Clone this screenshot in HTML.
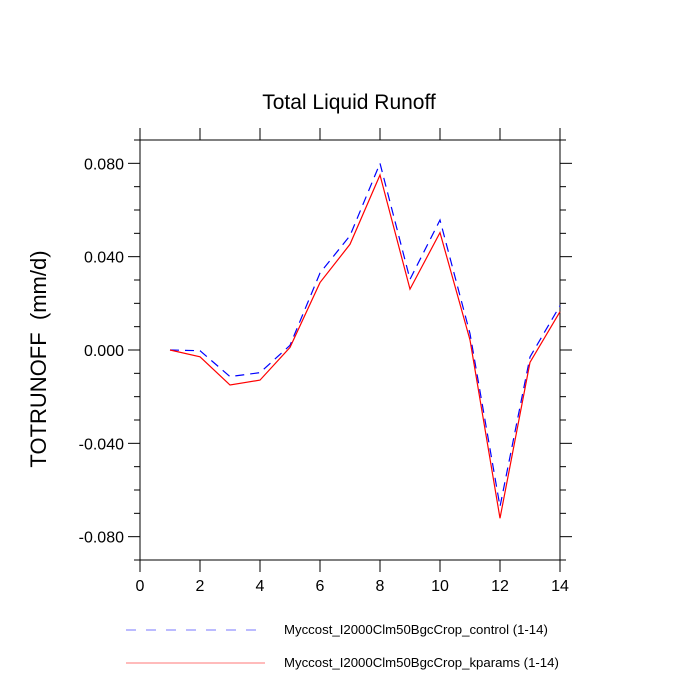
<!DOCTYPE html>
<html><head><meta charset="utf-8"><style>
body{margin:0;background:#fff}
svg{display:block;font-family:"Liberation Sans",sans-serif}
</style></head><body>
<svg id="chart" width="700" height="700" viewBox="0 0 700 700">
<text x="349" y="109" font-size="21" text-anchor="middle">Total Liquid Runoff</text>
<text transform="translate(46,359) rotate(-90)" font-size="22" text-anchor="middle" xml:space="preserve" style="white-space:pre">TOTRUNOFF  (mm/d)</text>
<g id="axes"></g>
<g id="series"></g>
<g>
<line x1="126" y1="630" x2="265" y2="630" stroke="#7777ff" stroke-width="1" stroke-dasharray="10,10"/>
<text x="284" y="634" font-size="13.2">Myccost_I2000Clm50BgcCrop_control (1-14)</text>
<line x1="126" y1="663" x2="265" y2="663" stroke="#ff7777" stroke-width="1"/>
<text x="284" y="667" font-size="13.2">Myccost_I2000Clm50BgcCrop_kparams (1-14)</text>
</g>
</svg>
<script>
const months = [1,2,3,4,5,6,7,8,9,10,11,12,13,14];
const controlVals = [0,-0.0003,-0.0114,-0.0097,0.002,0.033,0.049,0.080,0.0303,0.0557,0.007,-0.0671,-0.003,0.019];
const kparamsVals = [0,-0.0029,-0.015,-0.0129,0.0011,0.0289,0.0453,0.075,0.0261,0.0503,0.0043,-0.0721,-0.0053,0.0164];
const xTicks = [0,2,4,6,8,10,12,14];
const yTicks = [-0.08,-0.04,0,0.04,0.08];
const yTickLabels = ["-0.080","-0.040","0.000","0.040","0.080"];

const L=140,R=560,T=140,B=560,xMin=0,xMax=14,yMin=-0.09,yMax=0.09;
const sx=v=>L+(v-xMin)/(xMax-xMin)*(R-L);
const sy=v=>B-(v-yMin)/(yMax-yMin)*(B-T);
const NS="http://www.w3.org/2000/svg";
const axes=document.getElementById('axes');
const series=document.getElementById('series');
function mk(tag,attrs,parent){const e=document.createElementNS(NS,tag);for(const k in attrs)e.setAttribute(k,attrs[k]);parent.appendChild(e);return e;}

const frame=mk('rect',{x:L,y:T,width:R-L,height:B-T,fill:'none',stroke:'#000','stroke-width':1},axes);



for(let i=0;i<xTicks.length;i++){
  const x=sx(xTicks[i]);
  const t1=mk('line',{x1:x,y1:B,x2:x,y2:B+12,stroke:'#000'},axes);
  
  
  const t2=mk('line',{x1:x,y1:T,x2:x,y2:T-12,stroke:'#000'},axes);
  
  
  const lb=mk('text',{x:x,y:B+31,'font-size':16,'text-anchor':'middle'},axes);
  lb.textContent=xTicks[i];
  
  
}
for(let k=-9;k<=9;k++){
  const v=k/100,y=sy(v),major=(k%4===0);
  const len=major?12:6;
  const a=mk('line',{x1:L,y1:y,x2:L-len,y2:y,stroke:'#000'},axes);
  
  
  const b=mk('line',{x1:R,y1:y,x2:R+len,y2:y,stroke:'#000'},axes);
  
  
}
for(let i=0;i<yTicks.length;i++){
  const lb=mk('text',{x:L-16,y:sy(yTicks[i])+6,'font-size':16,'text-anchor':'end'},axes);
  lb.textContent=yTickLabels[i];
  
  
}
function line(vals,attrs,name){
  const pts=vals.map((v,i)=>sx(months[i])+','+sy(v)).join(' ');
  const p=mk('polyline',Object.assign({points:pts,fill:'none','stroke-width':1.2},attrs),series);
  
  
}
line(controlVals,{stroke:'#0000ff','stroke-dasharray':'9,6'},'control-series-line');
line(kparamsVals,{stroke:'#ff0000'},'kparams-series-line');
</script>
</body></html>
